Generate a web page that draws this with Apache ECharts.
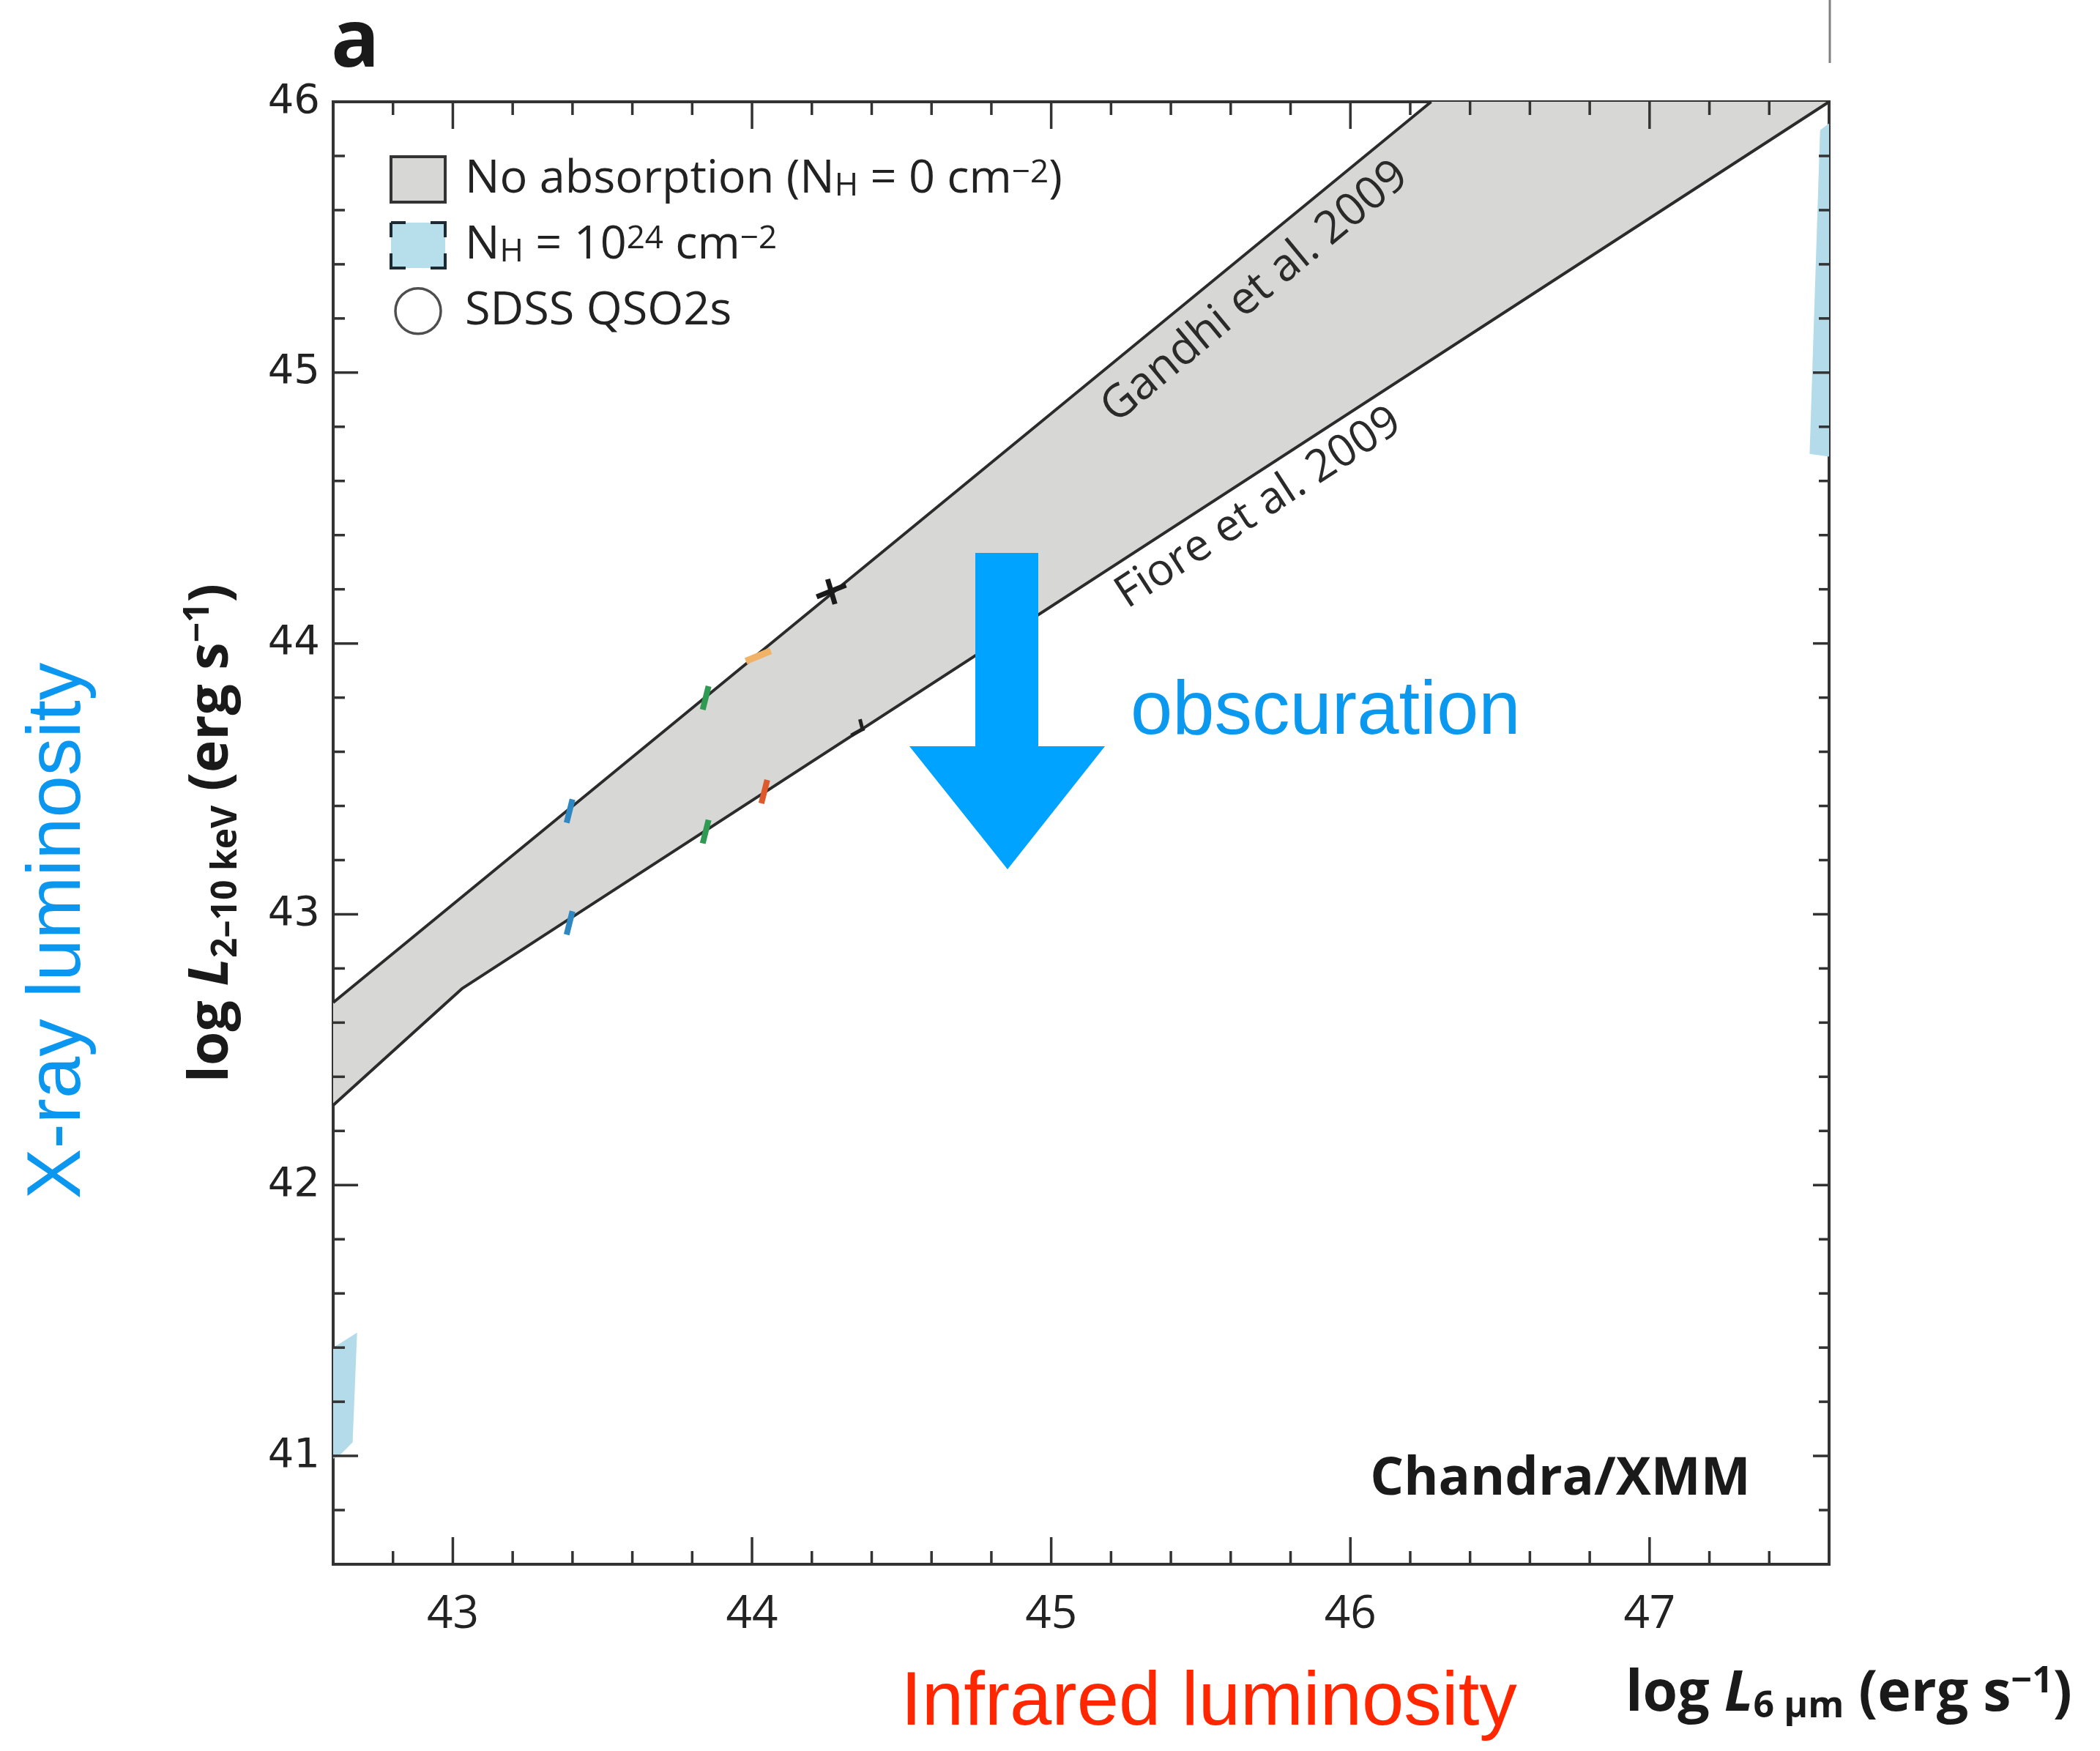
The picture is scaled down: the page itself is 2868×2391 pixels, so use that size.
<!DOCTYPE html>
<html>
<head>
<meta charset="utf-8">
<script src="https://cdn.jsdelivr.net/npm/echarts@6/dist/echarts.min.js"></script>
<style>
  html, body { margin: 0; padding: 0; background: #fff; }
  #chart { width: 2868px; height: 2391px; }
</style>
</head>
<body>
<div id="chart"></div>
<script>
// axis ranges / tick labels
const xRange = [42.6, 47.6]
const yRange = [40.6, 46]
const tickStep = 0.2
const xTickLabels = [43, 44, 45, 46, 47]
const yTickLabels = [41, 42, 43, 44, 45, 46]

// Gandhi et al. 2009 - upper edge of the grey band
const gandhiX = [42.6, 46.27]
const gandhiY = [42.674, 46]
// Fiore et al. 2009 - lower edge, bends near 43
const fioreX = [42.6, 43.03, 47.6]
const fioreY = [42.295, 42.725, 46]

// what is left of the N_H = 1e24 area at the two edges
const nhLeftX = [42.6, 42.68, 42.665, 42.62, 42.6]
const nhLeftY = [41.4, 41.455, 41.05, 41.0, 40.99]
const nhRightX = [47.57, 47.6, 47.6, 47.535]
const nhRightY = [45.895, 45.92, 44.69, 44.7]

// small coloured pieces of error bars on the two lines
const markX = [43.39, 43.845, 44.021, 44.265, 43.39, 43.845, 44.041, 44.351]
const markY = [43.381, 43.799, 43.951, 44.194, 42.968, 43.305, 43.453, 43.682]
const markColor = ["#2f88c2", "#2f9a52", "#efb266", "#1a1a1a", "#2f88c2", "#2f9a52", "#dd5a2c", "#222222"]
const markKind = ["bar", "bar", "dash", "cross", "bar", "bar", "bar", "half"]

const legendText = {
  noabs: "No absorption (N{sub|H} = 0 cm{sup|−2})",
  nh24: "N{sub|H} = 10{sup|24} cm{sup|−2}",
  qso2: "SDSS QSO2s",
}

const isLabel = (list, v) => list.some(t => Math.abs(t - v) < 1e-6)
const zip = (xs, ys) => xs.map((x, i) => [x, ys[i]])

// frame ticks every 0.2, longer at integers
const xTicks = []
for (let k = Math.round(xRange[0] / tickStep) + 1; k < Math.round(xRange[1] / tickStep); k++) {
  const v = +(k * tickStep).toFixed(1)
  xTicks.push([v, yRange[0], k % 5 === 0 ? 1 : 0])
}
const yTicks = []
for (let k = Math.round(yRange[0] / tickStep) + 1; k < Math.round(yRange[1] / tickStep); k++) {
  const v = +(k * tickStep).toFixed(1)
  yTicks.push([xRange[0], v, k % 5 === 0 ? 1 : 0])
}

const ink = "#333"
const sansFont = "Open Sans"
const richSubSup = {
  sub: { fontFamily: sansFont, fontSize: 44, lineHeight: 30, verticalAlign: "bottom", color: "#222" },
  sup: { fontFamily: sansFont, fontSize: 44, lineHeight: 30, verticalAlign: "top", color: "#222" },
}

const chart = echarts.init(document.getElementById("chart"))

const option = {
  animation: false,
  backgroundColor: "#fff",
  grid: {
    left: 455,
    top: 139,
    width: 2043,
    height: 1997,
    show: true,
    borderColor: ink,
    borderWidth: 4,
    backgroundColor: "transparent",
  },
  legend: {
    orient: "vertical",
    left: 527,
    top: 207,
    itemWidth: 74,
    itemHeight: 62,
    itemGap: 24,
    selectedMode: false,
    data: [
      { name: "noabs", icon: "rect", itemStyle: { color: "#d7d7d5", borderColor: ink, borderWidth: 4 } },
      {
        name: "nh24",
        icon: "rect",
        itemStyle: {
          color: "#b7dfeb",
          borderColor: "#1c2b33",
          borderWidth: 4,
          borderType: [20, 34, 40, 22, 40, 34, 40, 22, 20, 0],
        },
      },
      { name: "qso2", icon: "circle", itemStyle: { color: "#fff", borderColor: "#222", borderWidth: 3.5 } },
    ],
    formatter: name => legendText[name],
    textStyle: {
      fontFamily: sansFont,
      fontSize: 63,
      lineHeight: 62,
      color: "#222",
      padding: [0, 0, 0, 22],
      rich: richSubSup,
    },
  },
  xAxis: {
    type: "value",
    min: xRange[0],
    max: xRange[1],
    interval: tickStep,
    axisLine: { show: false },
    axisTick: { show: false },
    splitLine: { show: false },
    axisLabel: {
      margin: 38,
      fontFamily: sansFont,
      fontSize: 62,
      color: "#222",
      formatter: v => (isLabel(xTickLabels, v) ? String(Math.round(v)) : ""),
    },
  },
  yAxis: {
    type: "value",
    min: yRange[0],
    max: yRange[1],
    interval: tickStep,
    axisLine: { show: false },
    axisTick: { show: false },
    splitLine: { show: false },
    axisLabel: {
      margin: 18,
      fontFamily: "DejaVu Sans",
      fontSize: 56,
      color: "#222",
      formatter: v => (isLabel(yTickLabels, v) ? String(Math.round(v)) : ""),
    },
    name: "log {i|L}{s|2–10 keV} (erg s{p|−1})",
    nameLocation: "middle",
    nameRotate: 90,
    nameGap: 122,
    nameTextStyle: {
      fontFamily: sansFont,
      fontWeight: "bold",
      fontSize: 75,
      lineHeight: 86,
      color: "#1a1a1a",
      rich: {
        i: { fontFamily: sansFont, fontWeight: "bold", fontStyle: "italic", fontSize: 75, lineHeight: 86, color: "#1a1a1a" },
        s: { fontFamily: sansFont, fontWeight: "bold", fontSize: 48, lineHeight: 36, verticalAlign: "bottom", color: "#1a1a1a" },
        p: { fontFamily: sansFont, fontWeight: "bold", fontSize: 48, lineHeight: 36, verticalAlign: "top", color: "#1a1a1a" },
      },
    },
  },
  series: [
    {
      // grey band between the two relations
      name: "noabs",
      type: "custom",
      z: 1,
      silent: true,
      data: [[gandhiX[0], gandhiY[0]]],
      renderItem: (params, api) => {
        const upper = zip(gandhiX, gandhiY)
        const lower = zip(fioreX, fioreY).reverse()
        const pts = upper.concat(lower).map(p => api.coord(p))
        return { type: "polygon", shape: { points: pts }, style: { fill: "#d7d7d5" } }
      },
    },
    {
      name: "nh24",
      type: "custom",
      z: 1,
      silent: true,
      data: [
        [nhLeftX[0], nhLeftY[0]],
        [nhRightX[0], nhRightY[0]],
      ],
      renderItem: (params, api) => {
        const xs = params.dataIndex === 0 ? nhLeftX : nhRightX
        const ys = params.dataIndex === 0 ? nhLeftY : nhRightY
        const pts = zip(xs, ys).map(p => api.coord(p))
        return { type: "polygon", shape: { points: pts }, style: { fill: "#b3dbe9" } }
      },
    },
    {
      name: "qso2",
      type: "scatter",
      symbol: "circle",
      data: [],
    },
    {
      name: "gandhi",
      type: "line",
      z: 3,
      silent: true,
      showSymbol: false,
      data: zip(gandhiX, gandhiY),
      lineStyle: { color: "#2b2b2b", width: 4 },
    },
    {
      name: "fiore",
      type: "line",
      z: 3,
      silent: true,
      showSymbol: false,
      data: zip(fioreX, fioreY),
      lineStyle: { color: "#2b2b2b", width: 4 },
    },
    {
      // error bar fragments
      name: "marks",
      type: "custom",
      z: 4,
      silent: true,
      data: zip(markX, markY),
      renderItem: (params, api) => {
        const p = api.coord([api.value(0), api.value(1)])
        const c = markColor[params.dataIndex]
        const kind = markKind[params.dataIndex]
        const seg = (x1, y1, x2, y2, w) => ({
          type: "line",
          shape: { x1: p[0] + x1, y1: p[1] + y1, x2: p[0] + x2, y2: p[1] + y2 },
          style: { stroke: c, lineWidth: w },
        })
        if (kind === "dash") return { type: "group", children: [seg(-17, 6, 17, -8, 9)] }
        if (kind === "cross") {
          return { type: "group", children: [seg(-20, 8, 20, -8, 7), seg(-5, -16, 5, 18, 7)] }
        }
        if (kind === "half") return { type: "group", children: [seg(-8, 8, 10, -2, 5), seg(4, -14, 8, 2, 5)] }
        return { type: "group", children: [seg(-4, 16, 4, -16, 8)] }
      },
    },
    {
      // ticks on bottom and top
      name: "xticks",
      type: "custom",
      z: 5,
      silent: true,
      clip: false,
      data: xTicks,
      renderItem: (params, api) => {
        const v = api.value(0)
        const len = api.value(2) ? 37 : 18
        const b = api.coord([v, yRange[0]])
        const t = api.coord([v, yRange[1]])
        return {
          type: "group",
          children: [
            { type: "line", shape: { x1: b[0], y1: b[1], x2: b[0], y2: b[1] - len }, style: { stroke: ink, lineWidth: 3.5 } },
            { type: "line", shape: { x1: t[0], y1: t[1], x2: t[0], y2: t[1] + len }, style: { stroke: ink, lineWidth: 3.5 } },
          ],
        }
      },
    },
    {
      // ticks on left and right
      name: "yticks",
      type: "custom",
      z: 5,
      silent: true,
      clip: false,
      data: yTicks,
      renderItem: (params, api) => {
        const v = api.value(1)
        const major = api.value(2)
        const l = api.coord([xRange[0], v])
        const r = api.coord([xRange[1], v])
        const ll = major ? 34 : 16
        const rl = major ? 22 : 14
        return {
          type: "group",
          children: [
            { type: "line", shape: { x1: l[0], y1: l[1], x2: l[0] + ll, y2: l[1] }, style: { stroke: ink, lineWidth: 3.5 } },
            { type: "line", shape: { x1: r[0], y1: r[1], x2: r[0] - rl, y2: r[1] }, style: { stroke: ink, lineWidth: 3.5 } },
          ],
        }
      },
    },
  ],
  graphic: [
    // panel letter
    {
      type: "text",
      z: 100,
      x: 452,
      y: 60,
      style: { text: "a", fontFamily: sansFont, fontWeight: "bold", fontSize: 110, fill: "#1a1a1a", verticalAlign: "middle" },
    },
    // edge of the neighbouring panel
    { type: "line", z: 100, shape: { x1: 2499, y1: 0, x2: 2499, y2: 86 }, style: { stroke: "#808080", lineWidth: 3 } },
    // relation names along the lines
    {
      type: "text",
      z: 100,
      x: 1714,
      y: 399,
      rotation: 0.691,
      style: { text: "Gandhi et al. 2009", fontFamily: sansFont, fontSize: 62, fill: "#2a2a2a", align: "center", verticalAlign: "middle" },
    },
    {
      type: "text",
      z: 100,
      x: 1719,
      y: 694,
      rotation: 0.578,
      style: { text: "Fiore et al. 2009", fontFamily: sansFont, fontSize: 61, fill: "#2a2a2a", align: "center", verticalAlign: "middle" },
    },
    {
      type: "text",
      z: 100,
      x: 2131,
      y: 2020,
      style: { text: "Chandra/XMM", fontFamily: sansFont, fontWeight: "bold", fontSize: 72, fill: "#1a1a1a", align: "center", verticalAlign: "middle" },
    },
    // obscuration arrow
    {
      type: "polygon",
      z: 100,
      shape: {
        points: [
          [1332, 755],
          [1418, 755],
          [1418, 1019],
          [1509, 1019],
          [1376, 1187],
          [1242, 1019],
          [1332, 1019],
        ],
      },
      style: { fill: "#00a3ff" },
    },
    {
      type: "text",
      z: 100,
      x: 1544,
      y: 974,
      style: { text: "obscuration", fontFamily: "Liberation Sans", fontSize: 103, fill: "#0a99ef", verticalAlign: "middle" },
    },
    {
      type: "text",
      z: 100,
      x: 81,
      y: 1271,
      rotation: Math.PI / 2,
      style: { text: "X-ray luminosity", fontFamily: "Liberation Sans", fontSize: 103, fill: "#0b97f0", align: "center", verticalAlign: "middle" },
    },
    {
      type: "text",
      z: 100,
      x: 1651,
      y: 2327,
      style: { text: "Infrared luminosity", fontFamily: "Liberation Sans", fontSize: 103, fill: "#ff2600", align: "center", verticalAlign: "middle" },
    },
    // x axis title
    {
      type: "text",
      z: 100,
      x: 2220,
      y: 2314,
      style: {
        text: "log {i|L}{s|6 µm} (erg s{p|−1})",
        fontFamily: sansFont,
        fontWeight: "bold",
        fontSize: 77,
        lineHeight: 84,
        fill: "#1a1a1a",
        verticalAlign: "middle",
        rich: {
          i: { fontFamily: sansFont, fontWeight: "bold", fontStyle: "italic", fontSize: 77, lineHeight: 84, fill: "#1a1a1a" },
          s: { fontFamily: sansFont, fontWeight: "bold", fontSize: 50, lineHeight: 36, verticalAlign: "bottom", fill: "#1a1a1a" },
          p: { fontFamily: sansFont, fontWeight: "bold", fontSize: 50, lineHeight: 36, verticalAlign: "top", fill: "#1a1a1a" },
        },
      },
    },
  ],
}

chart.setOption(option)
</script>
</body>
</html>
